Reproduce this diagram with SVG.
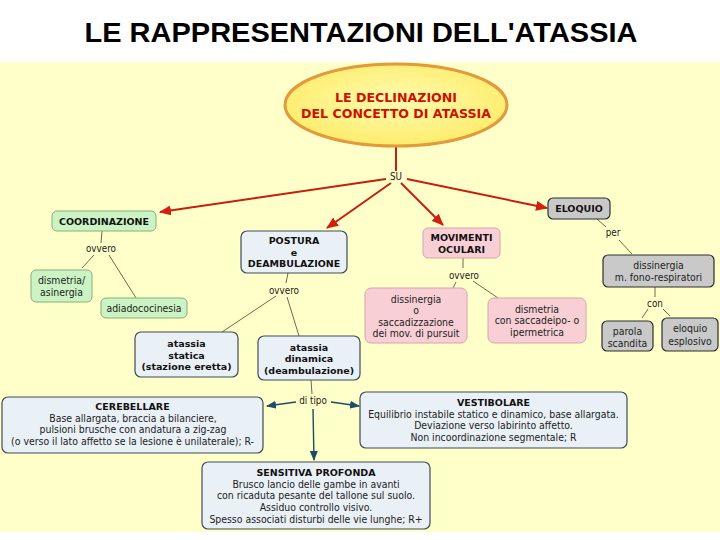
<svg xmlns="http://www.w3.org/2000/svg" width="720" height="540" viewBox="0 0 720 540">
<defs>
<style>
.bg{fill:#FFFFC9}
.title{font-family:"Liberation Sans",Arial,sans-serif;font-size:28px;font-weight:bold;fill:#000}
.et{font-family:"DejaVu Sans",Verdana,sans-serif;font-size:12.6px;font-weight:bold;fill:#CC1100}
.h{font-family:"DejaVu Sans",Verdana,sans-serif;font-size:9.5px;font-weight:bold;fill:#111;text-anchor:middle}
.t{font-family:"DejaVu Sans",Verdana,sans-serif;font-size:10.4px;fill:#222;text-anchor:middle;font-stretch:condensed}
.l{font-family:"DejaVu Sans",Verdana,sans-serif;font-size:9.8px;fill:#222;text-anchor:middle;font-stretch:condensed}
.green{fill:#CBF3C4;stroke:#86B078;stroke-width:1}
.blue{fill:#E9F0F6;stroke:#3E4C5A;stroke-width:1.2}
.pink{fill:#F9CFD6;stroke:#D9A4AC;stroke-width:1}
.gray{fill:#C9C9C9;stroke:#2E2E2E;stroke-width:1.2}
.red{stroke:#C81E0E;stroke-width:2;fill:none}
.thin{stroke:#6E6A4A;stroke-width:1;fill:none}
.dark{stroke:#1F4A68;stroke-width:1.4;fill:none}
</style>
<radialGradient id="eg" cx="50%" cy="45%" r="60%">
<stop offset="0" stop-color="#FFFBB0"/>
<stop offset="1" stop-color="#FFEB66"/>
</radialGradient>
<marker id="ar" markerUnits="userSpaceOnUse" markerWidth="12" markerHeight="10" refX="11" refY="5" orient="auto">
<path d="M0,0 L12,5 L0,10 Z" fill="#D41E0E"/>
</marker>
<marker id="ab" markerUnits="userSpaceOnUse" markerWidth="10" markerHeight="8" refX="9" refY="4" orient="auto">
<path d="M0,0 L10,4 L0,8 Z" fill="#1F4A68"/>
</marker>
</defs>

<rect x="0" y="0" width="720" height="540" fill="#FFFFFF"/>
<rect class="bg" x="0" y="62" width="720" height="470"/>
<text class="title" x="361" y="42" text-anchor="middle" textLength="553" lengthAdjust="spacingAndGlyphs">LE RAPPRESENTAZIONI DELL'ATASSIA</text>

<g id="connectors">
<line class="red" x1="396" y1="146" x2="396" y2="171"/>
<line class="red" x1="386" y1="179" x2="160" y2="212" marker-end="url(#ar)"/>
<line class="red" x1="391" y1="183" x2="327" y2="228" marker-end="url(#ar)"/>
<line class="red" x1="401" y1="183" x2="443" y2="225" marker-end="url(#ar)"/>
<line class="red" x1="407" y1="179" x2="547" y2="208" marker-end="url(#ar)"/>
<text class="l" x="396" y="180">SU</text>

<line class="thin" x1="102" y1="231" x2="101" y2="243"/>
<line class="thin" x1="94" y1="255" x2="82" y2="268"/>
<line class="thin" x1="109" y1="255" x2="136" y2="298"/>
<text class="l" x="101" y="252">ovvero</text>

<line class="thin" x1="288" y1="273" x2="286" y2="283"/>
<line class="thin" x1="276" y1="296" x2="222" y2="332"/>
<line class="thin" x1="287" y1="297" x2="299" y2="336"/>
<text class="l" x="284" y="294">ovvero</text>

<line class="thin" x1="463" y1="258" x2="463" y2="268"/>
<line class="thin" x1="456" y1="282" x2="453" y2="288"/>
<line class="thin" x1="473" y1="281" x2="498" y2="298"/>
<text class="l" x="464" y="279">ovvero</text>

<line class="thin" x1="597" y1="219" x2="606" y2="227"/>
<line class="thin" x1="619" y1="240" x2="632" y2="254"/>
<text class="l" x="613" y="236">per</text>

<line class="thin" x1="655" y1="287" x2="655" y2="297"/>
<line class="thin" x1="648" y1="309" x2="642" y2="318"/>
<line class="thin" x1="663" y1="309" x2="670" y2="316"/>
<text class="l" x="655" y="307">con</text>

<line class="thin" x1="311" y1="380" x2="312" y2="394"/>
<line class="dark" x1="296" y1="402" x2="267" y2="406" marker-end="url(#ab)"/>
<line class="dark" x1="331" y1="402" x2="359" y2="406" marker-end="url(#ab)"/>
<line class="dark" x1="313" y1="409" x2="314" y2="460" marker-end="url(#ab)"/>
<text class="l" x="313" y="404">di tipo</text>
</g>

<g id="root">
<ellipse cx="396" cy="105" rx="111" ry="41" fill="url(#eg)" stroke="#E29A3C" stroke-width="3"/>
<text class="et" x="396" y="102" text-anchor="middle">LE DECLINAZIONI</text>
<text class="et" x="396" y="118" text-anchor="middle">DEL CONCETTO DI ATASSIA</text>
</g>

<g id="coordinazione">
<rect class="green" x="52" y="211" width="104" height="20" rx="5"/>
<text class="h" x="104" y="224.5">COORDINAZIONE</text>
</g>
<g id="dismetria-asinergia">
<rect class="green" x="31" y="270" width="61" height="32" rx="5"/>
<text class="t" x="61.5" y="283.5">dismetria/</text>
<text class="t" x="61.5" y="295.5">asinergia</text>
</g>
<g id="adiadococinesia">
<rect class="green" x="101" y="298" width="86" height="20" rx="5"/>
<text class="t" x="144" y="311.5">adiadococinesia</text>
</g>

<g id="postura">
<rect class="blue" x="241" y="231" width="106" height="42" rx="6"/>
<text class="h" x="294" y="244">POSTURA</text>
<text class="h" x="294" y="255.5">e</text>
<text class="h" x="294" y="267">DEAMBULAZIONE</text>
</g>
<g id="atassia-statica">
<rect class="blue" x="135" y="332" width="103" height="45" rx="6"/>
<text class="h" x="186.5" y="347">atassia</text>
<text class="h" x="186.5" y="358.5">statica</text>
<text class="h" x="186.5" y="370">(stazione eretta)</text>
</g>
<g id="atassia-dinamica">
<rect class="blue" x="258" y="336" width="102" height="44" rx="6"/>
<text class="h" x="309" y="350.5">atassia</text>
<text class="h" x="309" y="362">dinamica</text>
<text class="h" x="309" y="373.5">(deambulazione)</text>
</g>

<g id="movimenti">
<rect class="pink" x="423" y="228" width="77" height="30" rx="5"/>
<text class="h" x="461.5" y="241">MOVIMENTI</text>
<text class="h" x="461.5" y="253">OCULARI</text>
</g>
<g id="dissinergia-saccadi">
<rect class="pink" x="365" y="288" width="102" height="55" rx="6"/>
<text class="t" x="416" y="302.5">dissinergia</text>
<text class="t" x="416" y="314">o</text>
<text class="t" x="416" y="325.5">saccadizzazione</text>
<text class="t" x="416" y="337">dei mov. di pursuit</text>
</g>
<g id="dismetria-saccadi">
<rect class="pink" x="488" y="298" width="98" height="45" rx="6"/>
<text class="t" x="537" y="312.5">dismetria</text>
<text class="t" x="537" y="324">con saccadeipo- o</text>
<text class="t" x="537" y="335.5">ipermetrica</text>
</g>

<g id="eloquio">
<rect class="gray" x="548" y="198" width="62" height="21" rx="5"/>
<text class="h" x="579" y="211.5">ELOQUIO</text>
</g>
<g id="dissinergia-fono">
<rect class="gray" x="603" y="255" width="111" height="32" rx="5"/>
<text class="t" x="658.5" y="269">dissinergia</text>
<text class="t" x="658.5" y="281">m. fono-respiratori</text>
</g>
<g id="parola-scandita">
<rect class="gray" x="602" y="321" width="51" height="30" rx="5"/>
<text class="t" x="627.5" y="334.5">parola</text>
<text class="t" x="627.5" y="346.5">scandita</text>
</g>
<g id="eloquio-esplosivo">
<rect class="gray" x="662" y="318" width="56" height="33" rx="5"/>
<text class="t" x="690" y="331.5">eloquio</text>
<text class="t" x="690" y="344.5">esplosivo</text>
</g>

<g id="cerebellare">
<rect class="blue" x="2" y="397" width="261" height="56" rx="6"/>
<text class="h" x="132.5" y="410">CEREBELLARE</text>
<text class="t" x="133" y="421.5">Base allargata, braccia a bilanciere,</text>
<text class="t" x="133" y="433">pulsioni brusche con andatura a zig-zag</text>
<text class="t" x="132.5" y="444.5">(o verso il lato affetto se la lesione è unilaterale); R-</text>
</g>
<g id="vestibolare">
<rect class="blue" x="360" y="392" width="267" height="56" rx="6"/>
<text class="h" x="493.5" y="406">VESTIBOLARE</text>
<text class="t" x="493.5" y="417.5">Equilibrio instabile statico e dinamico, base allargata.</text>
<text class="t" x="493.5" y="429">Deviazione verso labirinto affetto.</text>
<text class="t" x="493.5" y="440.5">Non incoordinazione segmentale; R</text>
</g>
<g id="sensitiva">
<rect class="blue" x="202" y="462" width="228" height="67" rx="6"/>
<text class="h" x="316" y="475.5">SENSITIVA PROFONDA</text>
<text class="t" x="316" y="487.5">Brusco lancio delle gambe in avanti</text>
<text class="t" x="316" y="499">con ricaduta pesante del tallone sul suolo.</text>
<text class="t" x="316" y="510.5">Assiduo controllo visivo.</text>
<text class="t" x="316" y="522.5">Spesso associati disturbi delle vie lunghe; R+</text>
</g>
</svg>
